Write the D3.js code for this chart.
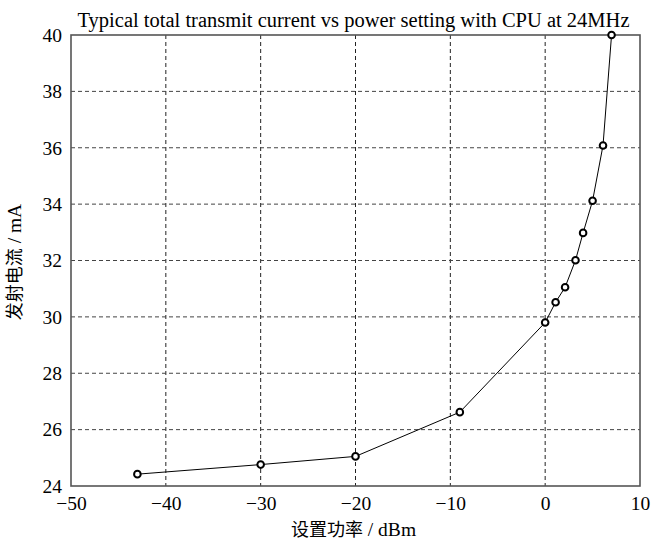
<!DOCTYPE html>
<html>
<head>
<meta charset="utf-8">
<script src="https://cdn.jsdelivr.net/npm/d3@7"></script>
<style>
  body { margin: 0; background: #fff; }
  svg text { font-family: "Liberation Serif"; fill: #000; }
  svg tspan.cjk { font-family: "Noto Sans CJK SC"; }
</style>
</head>
<body>
<div id="chart"></div>
<script>

// power setting (dBm) and measured transmit current (mA)
const powerSetting = [-43, -30, -20, -9, 0, 1.1, 2.1, 3.2, 4, 5, 6.1, 7]
const txCurrent = [24.42, 24.76, 25.05, 26.62, 29.8, 30.52, 31.05, 32.01, 32.98, 34.12, 36.08, 40.0]

const xTicks = [-50, -40, -30, -20, -10, 0, 10]
const yTicks = [24, 26, 28, 30, 32, 34, 36, 38, 40]

const chartTitle = 'Typical total transmit current vs power setting with CPU at 24MHz'
const xLabel = ['设置功率', ' / dBm']
const yLabel = ['发射电流', ' / mA']

const width = 651
const height = 542
const padding = { top: 35, right: 11, bottom: 56, left: 71 }

const innerWidth = width - padding.left - padding.right
const innerHeight = height - padding.top - padding.bottom

const points = powerSetting.map((p, i) => ({ x: p, y: txCurrent[i] }))

const svg = d3.select('#chart').append('svg')
  .attr('width', width)
  .attr('height', height)

const xScale = d3.scaleLinear().domain([-50, 10]).range([0, innerWidth])
const yScale = d3.scaleLinear().domain([24, 40]).range([innerHeight, 0])

const plot = svg.append('g')
  .attr('transform', `translate(${ padding.left }, ${ padding.top })`)

// grid lines
plot.append('g')
  .attr('class', 'grid')
  .selectAll('line')
  .data(xTicks.slice(1, -1))
  .join('line')
    .attr('x1', d => xScale(d)).attr('x2', d => xScale(d))
    .attr('y1', 0).attr('y2', innerHeight)
    .attr('stroke', '#222')
    .attr('stroke-width', 1)
    .attr('stroke-dasharray', '4,3')

plot.append('g')
  .attr('class', 'grid')
  .selectAll('line')
  .data(yTicks.slice(1, -1))
  .join('line')
    .attr('x1', 0).attr('x2', innerWidth)
    .attr('y1', d => yScale(d)).attr('y2', d => yScale(d))
    .attr('stroke', '#444')
    .attr('stroke-width', 1)
    .attr('stroke-dasharray', '4,3')

// axes (tick labels only, frame drawn below)
plot.append('g')
  .attr('class', 'axis x-axis')
  .attr('transform', `translate(0, ${ innerHeight })`)
  .call(d3.axisBottom(xScale).tickValues(xTicks).tickSize(0).tickPadding(10))

plot.append('g')
  .attr('class', 'axis y-axis')
  .call(d3.axisLeft(yScale).tickValues(yTicks).tickSize(0).tickPadding(9))

plot.selectAll('.axis').attr('font-family', null).attr('font-size', null)
plot.selectAll('.axis path').remove()
plot.selectAll('.axis text')
  .attr('font-family', 'Liberation Serif')
  .style('font-size', '19.5px')
  .attr('fill', '#000')

// frame
plot.append('rect')
  .attr('width', innerWidth)
  .attr('height', innerHeight)
  .attr('fill', 'none')
  .attr('stroke', '#555')
  .attr('stroke-width', 1.6)

// data line and markers
const line = d3.line().x(d => xScale(d.x)).y(d => yScale(d.y))

plot.append('path')
  .datum(points)
  .attr('d', line)
  .attr('fill', 'none')
  .attr('stroke', '#000')
  .attr('stroke-width', 1)

plot.append('g')
  .selectAll('circle')
  .data(points)
  .join('circle')
    .attr('cx', d => xScale(d.x))
    .attr('cy', d => yScale(d.y))
    .attr('r', 3.3)
    .attr('fill', '#fff')
    .attr('stroke', '#000')
    .attr('stroke-width', 2)

// titles
svg.append('text')
  .attr('x', padding.left + innerWidth / 2 - 2)
  .attr('y', 27)
  .attr('text-anchor', 'middle')
  .style('font-size', '20.5px')
  .text(chartTitle)

function addLabel(parts, transform) {
  let t = svg.append('text')
    .attr('transform', transform)
    .attr('text-anchor', 'middle')
    .style('font-size', '19.5px')
  t.append('tspan').attr('class', 'cjk').style('font-size', '18px').text(parts[0])
  t.append('tspan').text(parts[1])
}

addLabel(xLabel, `translate(${ padding.left + innerWidth / 2 - 2 }, 536)`)
addLabel(yLabel, `translate(21, 262) rotate(-90)`)

</script>
</body>
</html>
